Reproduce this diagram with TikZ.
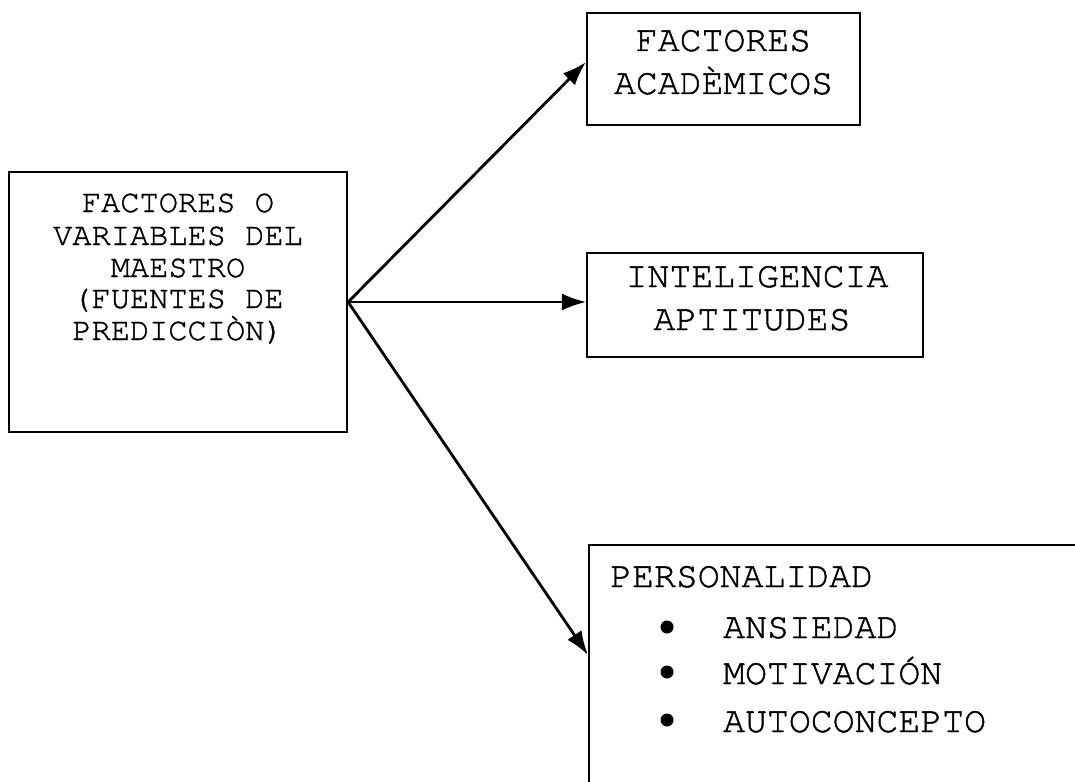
\documentclass[tikz,border=0pt]{standalone}
\usepackage{fontspec}
\newfontfamily\courfont[FakeBold=1.2]{TeX Gyre Cursor}
\usetikzlibrary{arrows.meta,calc}
\begin{document}
\begin{tikzpicture}[x=1pt,y=-1pt,
  box/.style={draw=black, line width=2.2pt, rectangle, inner sep=0pt},
  srctext/.style={font=\courfont\fontsize{32}{32}\selectfont, anchor=base, inner sep=0pt},
  boxtext/.style={font=\courfont\fontsize{36.5}{42}\selectfont, anchor=base, inner sep=0pt},
  itemtext/.style={boxtext, anchor=base west},
  dot/.style={circle, fill=black, minimum size=13pt, inner sep=0pt},
  arr/.style={-{Latex[length=24pt,width=17pt]}, line width=2.8pt},
  thinarr/.style={arr, line width=1.8pt}]
\useasboundingbox (0,0) rectangle (1075,781);
\clip (0,0) rectangle (1075,781);

% source box
\node[box, minimum width=338pt, minimum height=260pt] (src) at (178,302) {};
\node[srctext] (s1) at (178,212) {FACTORES O};
\node[srctext] (s2) at (178,245) {VARIABLES DEL};
\node[srctext] (s3) at (178,277) {MAESTRO};
\node[srctext] (s4) at (178,308) {(FUENTES DE};
\node[srctext] (s5) at (178,340) {PREDICCIÒN)};

% academic factors
\node[box, minimum width=273pt, minimum height=112pt] (acad) at (723.5,69) {};
\node[boxtext] (a1) at (723.5,51) {FACTORES};
\node[boxtext] (a2) at (723.5,94) {ACADÈMICOS};

% intelligence / aptitudes
\node[box, minimum width=336pt, minimum height=104pt] (intel) at (755,305) {};
\node[boxtext] (i1) at (757,287) {INTELIGENCIA};
\node[boxtext] (i2) at (752,330) {APTITUDES};

% personality, open towards the page edges
\node[box, minimum width=560pt, minimum height=320pt, anchor=north west] (pers) at (588,544) {};
\node[itemtext] (p0) at (610,587) {PERSONALIDAD};
\node[dot] (d1) at (667,627) {};
\node[itemtext] (p1) at (723,638) {ANSIEDAD};
\node[dot] (d2) at (667,672) {};
\node[itemtext] (p2) at (723,684) {MOTIVACIÓN};
\node[dot] (d3) at (667,720) {};
\node[itemtext] (p3) at (723,732) {AUTOCONCEPTO};

% connectors
\coordinate (tA) at ($(acad.north west)!0.44!(acad.south west)$);
\coordinate (tP) at ($(pers.north west)+(0,111)$);
\draw[arr] (src.east) -- (tA);
\draw[thinarr] (src.east) -- (src.east -| intel.west);
\draw[arr] (src.east) -- (tP);
\end{tikzpicture}
\end{document}
